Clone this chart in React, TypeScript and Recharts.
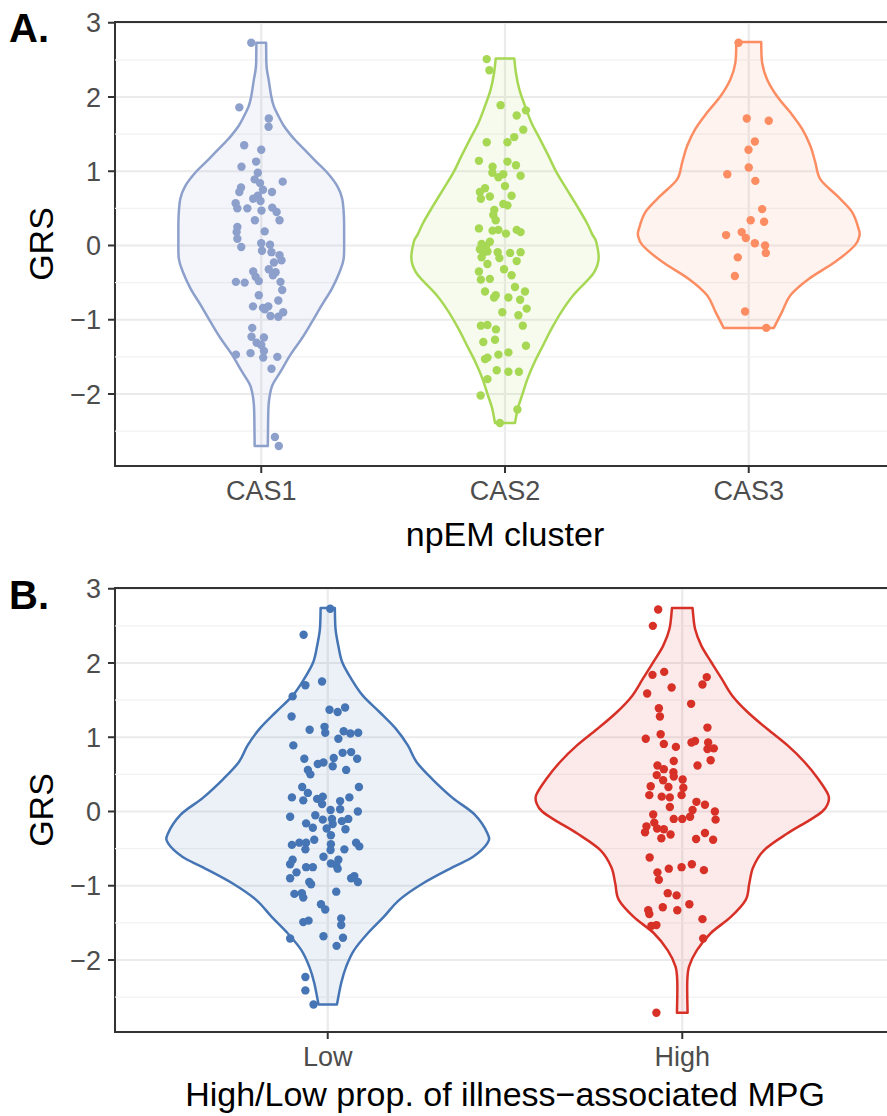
import React from "react";
import {
  ComposedChart,
  Scatter,
  XAxis,
  YAxis,
  CartesianGrid,
  ReferenceLine,
  ReferenceArea,
} from "recharts";

// Categories for the two panels
const clusterNames = ["CAS1", "CAS2", "CAS3"];
const mpgGroups = ["Low", "High"];

// GRS axis
const grsTicks = [-2, -1, 0, 1, 2, 3];
const grsMinorTicks = [-2.5, -1.5, -0.5, 0.5, 1.5, 2.5];
const grsDomain: [number, number] = [-2.97, 3.01];

// Jittered observations: [horizontal jitter, GRS]
const cas1Points = [
  [-0.041, 2.73], [-0.09, 1.86], [0.031, 1.71], [0.03, 1.6], [-0.07, 1.35], [0.0, 1.29],
  [-0.081, 1.06], [-0.021, 1.13], [-0.014, 0.98], [-0.027, 0.89], [-0.005, 0.84], [0.088, 0.86],
  [-0.083, 0.78], [-0.09, 0.72], [0.007, 0.75], [0.044, 0.72], [-0.014, 0.67], [-0.033, 0.63],
  [-0.003, 0.6], [-0.105, 0.57], [-0.098, 0.5], [-0.057, 0.5], [0.001, 0.47], [0.045, 0.51],
  [0.063, 0.45], [0.075, 0.34], [-0.026, 0.34], [-0.098, 0.25], [-0.101, 0.18], [0.014, 0.19],
  [-0.098, 0.09], [-0.082, -0.02], [0.0, 0.03], [0.036, 0.01], [0.003, -0.07], [0.042, -0.09],
  [0.075, -0.13], [0.083, -0.2], [0.052, -0.23], [0.031, -0.32], [0.059, -0.36], [0.048, -0.4],
  [-0.033, -0.35], [-0.023, -0.42], [-0.01, -0.48], [-0.104, -0.49], [-0.068, -0.5], [0.079, -0.49],
  [0.086, -0.6], [-0.01, -0.67], [0.07, -0.74], [-0.034, -0.82], [0.007, -0.84], [0.029, -0.82],
  [0.015, -0.86], [0.038, -0.95], [0.07, -0.96], [0.09, -0.9], [-0.037, -1.11], [-0.04, -1.23],
  [0.011, -1.24], [-0.019, -1.31], [0.0, -1.34], [0.011, -1.42], [-0.104, -1.47], [-0.044, -1.45],
  [0.008, -1.51], [0.066, -1.5], [0.042, -1.66], [0.056, -2.58], [0.072, -2.7],
];

const cas2Points = [
  [-0.075, 2.51], [-0.064, 2.36], [-0.018, 1.89], [0.048, 1.75], [0.086, 1.82], [0.075, 1.56],
  [0.038, 1.46], [0.01, 1.39], [-0.075, 1.39], [-0.107, 1.14], [0.01, 1.13], [-0.051, 1.06],
  [0.045, 1.08], [-0.052, 0.98], [-0.007, 0.96], [-0.027, 0.92], [0.064, 0.94], [0.0, 0.8],
  [-0.082, 0.77], [-0.103, 0.72], [-0.062, 0.66], [-0.099, 0.63], [0.027, 0.67], [-0.007, 0.56],
  [0.01, 0.54], [-0.044, 0.48], [-0.048, 0.41], [-0.038, 0.34], [-0.107, 0.23], [-0.051, 0.2],
  [-0.027, 0.21], [0.048, 0.21], [0.064, 0.18], [0.004, 0.16], [-0.062, 0.05], [-0.096, 0.02],
  [-0.078, -0.01], [-0.103, -0.05], [-0.089, -0.09], [-0.072, -0.08], [-0.03, -0.09], [0.021, -0.1],
  [0.064, -0.09], [-0.023, -0.17], [0.048, -0.21], [-0.096, -0.16], [-0.072, -0.25], [-0.004, -0.32],
  [-0.107, -0.35], [0.027, -0.4], [-0.099, -0.46], [-0.062, -0.45], [0.041, -0.56], [0.082, -0.62],
  [-0.082, -0.62], [-0.045, -0.7], [-0.038, -0.67], [0.014, -0.7], [0.062, -0.73], [0.089, -0.85],
  [-0.011, -0.9], [0.055, -0.94], [-0.099, -1.08], [-0.072, -1.07], [-0.037, -1.13], [0.073, -1.08],
  [-0.041, -1.27], [-0.089, -1.3], [0.086, -1.35], [0.014, -1.44], [-0.027, -1.47], [-0.072, -1.51],
  [-0.082, -1.53], [-0.034, -1.68], [0.014, -1.7], [0.057, -1.7], [-0.072, -1.8], [-0.1, -2.02],
  [0.051, -2.21], [-0.021, -2.39],
];

const cas3Points = [
  [-0.042, 2.73], [-0.008, 1.71], [0.082, 1.68], [0.025, 1.4], [-0.001, 1.29], [0.0, 1.05],
  [-0.088, 0.96], [0.027, 0.87], [0.055, 0.49], [0.008, 0.34], [0.063, 0.32], [-0.093, 0.14],
  [-0.029, 0.18], [-0.012, 0.1], [0.025, 0.03], [0.067, 0.0], [0.07, -0.1], [-0.045, -0.16],
  [-0.057, -0.41], [-0.015, -0.89], [0.072, -1.11],
];

const lowPoints = [
  [0.007, 2.73], [-0.068, 2.38], [-0.063, 1.7], [-0.016, 1.75], [-0.099, 1.55], [0.005, 1.37],
  [0.028, 1.34], [0.049, 1.4], [-0.102, 1.28], [-0.051, 1.1], [-0.009, 1.14], [-0.007, 1.06],
  [0.045, 1.08], [0.064, 1.05], [0.086, 1.06], [0.03, 0.98], [-0.097, 0.89], [0.042, 0.79],
  [0.066, 0.8], [0.017, 0.72], [-0.066, 0.71], [0.083, 0.71], [-0.028, 0.64], [-0.012, 0.66],
  [0.014, 0.61], [-0.056, 0.56], [-0.049, 0.5], [0.052, 0.56], [0.088, 0.33], [-0.072, 0.33],
  [-0.056, 0.25], [-0.101, 0.19], [-0.069, 0.15], [-0.03, 0.17], [-0.014, 0.2], [-0.016, 0.1],
  [0.035, 0.14], [0.061, 0.19], [0.008, 0.02], [0.035, 0.03], [0.085, 0.0], [-0.106, -0.07],
  [-0.035, -0.05], [-0.014, -0.11], [0.012, -0.1], [0.04, -0.13], [0.058, -0.1], [-0.061, -0.16],
  [-0.042, -0.22], [-0.003, -0.23], [0.014, -0.17], [0.05, -0.24], [0.009, -0.32], [-0.101, -0.45],
  [-0.08, -0.42], [-0.061, -0.42], [-0.063, -0.51], [-0.038, -0.38], [0.009, -0.44], [0.008, -0.52],
  [0.08, -0.42], [0.089, -0.47], [0.047, -0.51], [-0.012, -0.61], [-0.099, -0.65], [-0.106, -0.71],
  [0.009, -0.7], [0.03, -0.65], [0.024, -0.72], [0.028, -0.77], [-0.061, -0.75], [-0.042, -0.75],
  [-0.088, -0.82], [-0.106, -0.9], [-0.052, -0.95], [-0.047, -0.98], [0.066, -0.9], [0.075, -0.87],
  [0.085, -0.95], [0.024, -1.08], [-0.094, -1.11], [-0.073, -1.1], [-0.069, -1.16], [-0.019, -1.25],
  [-0.007, -1.32], [0.038, -1.44], [0.038, -1.53], [-0.069, -1.49], [-0.054, -1.47], [-0.106, -1.71],
  [-0.012, -1.68], [0.043, -1.7], [0.025, -1.81], [-0.063, -2.23], [-0.063, -2.41], [-0.04, -2.6],
];

const highPoints = [
  [-0.068, 2.72], [-0.083, 2.5], [-0.084, 1.84], [-0.051, 1.88], [0.069, 1.81], [0.057, 1.71],
  [-0.03, 1.67], [-0.099, 1.59], [0.025, 1.45], [-0.066, 1.39], [-0.063, 1.28], [0.071, 1.13],
  [-0.061, 1.04], [-0.103, 0.98], [-0.052, 0.91], [-0.018, 0.87], [0.026, 0.93], [0.036, 0.95],
  [0.073, 0.93], [0.071, 0.84], [0.089, 0.85], [0.08, 0.69], [-0.024, 0.68], [0.043, 0.62],
  [-0.07, 0.62], [-0.052, 0.57], [-0.025, 0.53], [-0.072, 0.49], [-0.024, 0.47], [0.001, 0.43],
  [-0.054, 0.42], [-0.089, 0.34], [-0.039, 0.33], [0.003, 0.32], [-0.093, 0.22], [-0.058, 0.2],
  [-0.035, 0.19], [-0.002, 0.22], [0.04, 0.13], [0.064, 0.09], [-0.035, 0.06], [0.029, 0.02],
  [0.092, 0.0], [-0.082, -0.04], [-0.024, -0.1], [0.0, -0.1], [0.022, -0.07], [0.094, -0.11],
  [-0.101, -0.2], [-0.079, -0.15], [-0.071, -0.23], [-0.052, -0.24], [-0.105, -0.28], [-0.033, -0.31],
  [-0.059, -0.36], [0.039, -0.37], [0.064, -0.29], [0.087, -0.38], [-0.092, -0.62], [-0.038, -0.77],
  [-0.002, -0.75], [0.027, -0.71], [0.061, -0.79], [-0.07, -0.82], [-0.066, -0.92], [-0.041, -1.1],
  [-0.016, -1.13], [0.02, -1.25], [-0.055, -1.29], [-0.014, -1.33], [-0.096, -1.33], [-0.093, -1.38],
  [0.057, -1.45], [-0.087, -1.54], [-0.073, -1.53], [0.059, -1.71], [-0.073, -2.71],
];

// Violin profiles (trimmed at the data range): [GRS, half-width]
const cas1Density = [
  [2.73, 0.02], [2.46, 0.021], [2.35, 0.024], [2.24, 0.03], [2.01, 0.041], [1.88, 0.051],
  [1.74, 0.071], [1.61, 0.093], [1.48, 0.123], [1.39, 0.148], [1.16, 0.216], [0.98, 0.271],
  [0.8, 0.312], [0.63, 0.332], [0.4, 0.339], [0.09, 0.34], [-0.18, 0.338], [-0.36, 0.321],
  [-0.58, 0.29], [-0.8, 0.249], [-1.03, 0.208], [-1.25, 0.167], [-1.47, 0.12], [-1.7, 0.079],
  [-1.88, 0.046], [-2.06, 0.033], [-2.23, 0.029], [-2.7, 0.027],
];

const cas2Density = [
  [2.52, 0.038], [2.32, 0.045], [2.1, 0.059], [1.88, 0.082], [1.65, 0.109], [1.43, 0.144],
  [1.21, 0.178], [0.98, 0.212], [0.76, 0.253], [0.54, 0.294], [0.31, 0.335], [0.15, 0.358],
  [0.05, 0.374], [-0.18, 0.384], [-0.36, 0.366], [-0.49, 0.332], [-0.67, 0.28], [-0.89, 0.232],
  [-1.12, 0.191], [-1.34, 0.157], [-1.56, 0.123], [-1.79, 0.093], [-2.01, 0.071], [-2.19, 0.053],
  [-2.39, 0.041],
];

const cas3Density = [
  [2.74, 0.051], [2.46, 0.055], [2.24, 0.075], [2.01, 0.116], [1.79, 0.171], [1.57, 0.219],
  [1.34, 0.253], [1.12, 0.273], [0.89, 0.294], [0.67, 0.362], [0.45, 0.424], [0.22, 0.451],
  [0.13, 0.454], [0.0, 0.435], [-0.22, 0.355], [-0.45, 0.246], [-0.67, 0.171], [-0.89, 0.137],
  [-1.11, 0.103],
];

const lowDensity = [
  [2.74, 0.02], [2.46, 0.022], [2.23, 0.03], [2.01, 0.041], [1.79, 0.066], [1.56, 0.099],
  [1.34, 0.146], [1.11, 0.193], [0.89, 0.226], [0.67, 0.25], [0.44, 0.294], [0.18, 0.353],
  [-0.04, 0.414], [-0.3, 0.451], [-0.43, 0.45], [-0.61, 0.41], [-0.75, 0.353], [-0.97, 0.268],
  [-1.19, 0.202], [-1.42, 0.158], [-1.64, 0.113], [-1.87, 0.074], [-2.09, 0.052], [-2.31, 0.038],
  [-2.6, 0.026],
];

const highDensity = [
  [2.74, 0.029], [2.46, 0.036], [2.23, 0.054], [2.01, 0.082], [1.79, 0.111], [1.56, 0.141],
  [1.34, 0.184], [1.11, 0.24], [0.89, 0.297], [0.67, 0.344], [0.44, 0.383], [0.22, 0.412],
  [0.1, 0.41], [0.0, 0.395], [-0.12, 0.358], [-0.3, 0.295], [-0.52, 0.231], [-0.75, 0.2],
  [-0.97, 0.189], [-1.19, 0.179], [-1.42, 0.137], [-1.64, 0.08], [-1.87, 0.041], [-2.09, 0.019],
  [-2.31, 0.014], [-2.71, 0.015],
];

type Group = { points: number[][]; density: number[][]; color: string };

const clusterGroups: Group[] = [
  { points: cas1Points, density: cas1Density, color: "#8DA0CB" },
  { points: cas2Points, density: cas2Density, color: "#A6D854" },
  { points: cas3Points, density: cas3Density, color: "#FC8D62" },
];

const mpgViolins: Group[] = [
  { points: lowPoints, density: lowDensity, color: "#4575B4" },
  { points: highPoints, density: highDensity, color: "#D73027" },
];

// closed outline: right edge top->bottom, left edge bottom->top
const outline = (density: number[][], center: number) => {
  const right = density.map(([y, w]) => ({ x: center + w, y }));
  const left = [...density].reverse().map(([y, w]) => ({ x: center - w, y }));
  return [...right, ...left, right[0]];
};

const jittered = (points: number[][], center: number) =>
  points.map(([j, y]) => ({ x: center + j, y }));

type Pt = { x: number; y: number };

// catmull-rom through one side of the violin, as cubic segments
const smoothSide = (pts: Pt[]) => {
  let d = "";
  for (let i = 0; i < pts.length - 1; i++) {
    const p0 = pts[Math.max(i - 1, 0)];
    const p1 = pts[i];
    const p2 = pts[i + 1];
    const p3 = pts[Math.min(i + 2, pts.length - 1)];
    const c1x = p1.x + (p2.x - p0.x) / 6;
    const c1y = p1.y + (p2.y - p0.y) / 6;
    const c2x = p2.x - (p3.x - p1.x) / 6;
    const c2y = p2.y - (p3.y - p1.y) / 6;
    d += ` C${c1x},${c1y} ${c2x},${c2y} ${p2.x},${p2.y}`;
  }
  return d;
};

// scatter line renderer: smooth sides, flat caps top and bottom
const violinLine = (props: any, color: string) => {
  const pts: Pt[] = props.points || [];
  const n = (pts.length - 1) / 2;
  if (n < 2) return <g />;
  const right = pts.slice(0, n);
  const left = pts.slice(n, 2 * n);
  const d =
    `M${right[0].x},${right[0].y}` +
    smoothSide(right) +
    ` L${left[0].x},${left[0].y}` +
    smoothSide(left) +
    " Z";
  return (
    <path
      d={d}
      stroke={color}
      strokeWidth={2.5}
      fill={color}
      fillOpacity={0.1}
      strokeLinejoin="round"
    />
  );
};

const fmtGrs = (v: number) => (v < 0 ? `\u2212${-v}` : `${v}`);

const FONT = "'Liberation Sans', Arial, Helvetica, sans-serif";

const grsTitle = (props: any) => {
  const vb = props.viewBox || { x: 0, y: 0, height: 0 };
  const cy = vb.y + vb.height / 2;
  return (
    <text
      transform={`translate(${vb.x + 41},${cy}) rotate(-90)`}
      textAnchor="middle"
      dy="0.36em"
      fontSize={34}
      fill="#000"
      fontFamily={FONT}
    >
      GRS
    </text>
  );
};

interface PanelProps {
  names: string[];
  groups: Group[];
  height: number;
  top: number;
  axisHeight: number;
  xTitle: string;
  titleOffset: number;
}

function ViolinPanel({ names, groups, height, top, axisHeight, xTitle, titleOffset }: PanelProps) {
  const xMax = names.length + 0.6;
  const centers = names.map((_, i) => i + 1);
  return (
    <ComposedChart width={900} height={height} margin={{ top, right: 5, bottom: 0, left: 0 }}>
      <CartesianGrid stroke="#EBEBEB" strokeWidth={2.2} />
      {grsMinorTicks.map((v) => (
        <ReferenceLine key={v} y={v} stroke="#F2F2F2" strokeWidth={1.3} />
      ))}
      <XAxis
        type="number"
        dataKey="x"
        domain={[0.4, xMax]}
        ticks={centers}
        interval={0}
        allowDataOverflow
        tickFormatter={(v: number) => names[v - 1]}
        height={axisHeight}
        axisLine={false}
        tickSize={7}
        tickMargin={8}
        tickLine={{ stroke: "#333333", strokeWidth: 2 }}
        tick={{ fill: "#4D4D4D", fontSize: 27, fontFamily: FONT }}
        label={{
          value: xTitle,
          position: "insideBottom",
          offset: titleOffset,
          fontSize: 34,
          fill: "#000",
          fontFamily: FONT,
        }}
      />
      <YAxis
        type="number"
        dataKey="y"
        domain={grsDomain}
        ticks={grsTicks}
        interval={0}
        allowDataOverflow
        tickFormatter={fmtGrs}
        width={115}
        axisLine={false}
        tickSize={7}
        tickMargin={7}
        tickLine={{ stroke: "#333333", strokeWidth: 2 }}
        tick={{ fill: "#4D4D4D", fontSize: 27, fontFamily: FONT }}
        label={grsTitle}
      />
      {groups.map((g, i) => (
        <Scatter
          key={`violin-${i}`}
          data={outline(g.density, i + 1)}
          fill={g.color}
          line={(lp: any) => violinLine(lp, g.color)}
          lineType="joint"
          shape={() => <g />}
          legendType="none"
          isAnimationActive={false}
        />
      ))}
      {groups.map((g, i) => (
        <Scatter
          key={`points-${i}`}
          data={jittered(g.points, i + 1)}
          fill={g.color}
          shape={(p: any) => <circle cx={p.cx} cy={p.cy} r={4.2} fill={g.color} />}
          legendType="none"
          isAnimationActive={false}
        />
      ))}
      <ReferenceArea
        x1={0.4}
        x2={xMax}
        y1={grsDomain[0]}
        y2={grsDomain[1]}
        fill="none"
        fillOpacity={0}
        stroke="#333333"
        strokeWidth={2}
        ifOverflow="visible"
      />
    </ComposedChart>
  );
}

export default function App() {
  return (
    <div
      style={{
        position: "absolute",
        left: 0,
        top: 0,
        width: 887,
        height: 1116,
        overflow: "hidden",
        background: "#fff",
        fontFamily: FONT,
      }}
    >
      <div style={{ position: "absolute", left: 0, top: 0 }}>
        <ViolinPanel
          names={clusterNames}
          groups={clusterGroups}
          height={565}
          top={22}
          axisHeight={99}
          xTitle="npEM cluster"
          titleOffset={19}
        />
      </div>
      <div style={{ position: "absolute", left: 0, top: 565 }}>
        <ViolinPanel
          names={mpgGroups}
          groups={mpgViolins}
          height={551}
          top={23}
          axisHeight={84}
          xTitle={"High/Low prop. of illness\u2212associated MPG"}
          titleOffset={10}
        />
      </div>
      <svg
        width={887}
        height={1116}
        style={{ position: "absolute", left: 0, top: 0, pointerEvents: "none" }}
      >
        <text x={9} y={42} fontSize={40} fontWeight="bold" fill="#000" fontFamily={FONT}>
          A.
        </text>
        <text x={9} y={609} fontSize={40} fontWeight="bold" fill="#000" fontFamily={FONT}>
          B.
        </text>
      </svg>
    </div>
  );
}
